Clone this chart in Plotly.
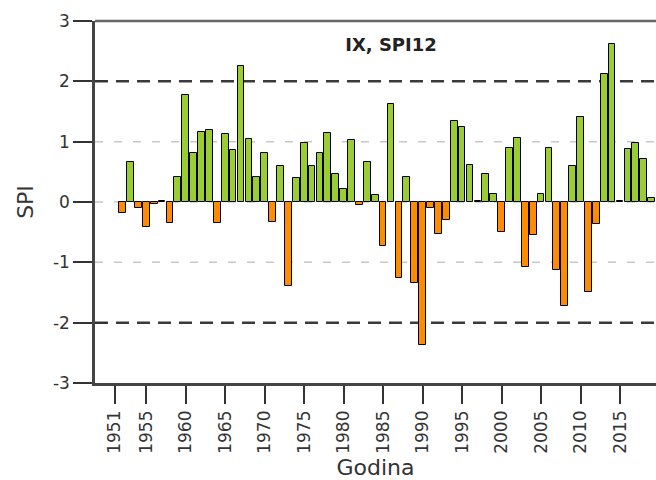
import plotly.graph_objects as go

# ---- data ----
years = list(range(1952, 2020))
spi12 = [
    -0.18, 0.66, -0.10, -0.41, -0.03, 0.01, -0.35, 0.42, 1.77,          # 1952-1960
    0.81, 1.16, 1.19, -0.35, 1.12, 0.86, 2.26, 1.05, 0.41, 0.81,        # 1961-1970
    -0.33, 0.60, -1.39, 0.40, 0.98, 0.60, 0.81, 1.14, 0.46, 0.22,       # 1971-1980
    1.02, -0.05, 0.66, 0.11, -0.73, 1.62, -1.26, 0.41, -1.35, -2.37,    # 1981-1990
    -0.10, -0.53, -0.30, 1.35, 1.24, 0.61, 0.02, 0.46, 0.14, -0.50,     # 1991-2000
    0.90, 1.06, -1.07, -0.54, 0.14, 0.89, -1.13, -1.72, 0.59, 1.41,     # 2001-2010
    -1.49, -0.37, 2.12, 2.62, 0.02, 0.88, 0.98, 0.72, 0.06,             # 2011-2019
]
x_tick_vals = [1951, 1955, 1960, 1965, 1970, 1975, 1980, 1985, 1990,
               1995, 2000, 2005, 2010, 2015, 2020]
x_tick_labels = [str(v) for v in x_tick_vals]
y_tick_vals = [-3, -2, -1, 0, 1, 2, 3]
y_tick_labels = ["-3", "-2", "-1", "0", "1", "2", "3"]
thresholds = [-2, 2]          # dark dashed reference lines
light_lines = [-1, 0, 1]      # light dashed grid lines
title_text = "IX, SPI12"
x_title = "Godina"
y_title = "SPI"

GREEN = "#9acd32"
ORANGE = "#ff8c00"
colors = [GREEN if v >= 0 else ORANGE for v in spi12]

FONT = "DejaVu Sans"
TXT = "#333333"

fig = go.Figure()
fig.add_trace(go.Bar(
    x=years, y=spi12, width=0.85,
    marker=dict(color=colors, line=dict(color="black", width=1)),
    showlegend=False,
))
# helper trace for the inner tick marks axis
fig.add_trace(go.Scatter(x=[], y=[], yaxis="y2", showlegend=False, hoverinfo="skip"))

shapes = []
for v in light_lines:
    shapes.append(dict(type="line", xref="paper", yref="y", x0=0, x1=1, y0=v, y1=v,
                       line=dict(color="#c8c8c8", width=1.5, dash="8px,11px"), layer="below"))
for t in thresholds:
    shapes.append(dict(type="line", xref="paper", yref="y", x0=0, x1=1, y0=t, y1=t,
                       line=dict(color="#3a3a3a", width=2.5, dash="13px,8px"), layer="below"))
shapes.append(dict(type="line", xref="paper", yref="paper", x0=0, x1=1, y0=1, y1=1,
                   line=dict(color="#666", width=2.5), layer="above"))

fig.update_layout(
    width=656, height=480,
    margin=dict(l=95, r=0, t=21, b=97),
    paper_bgcolor="white", plot_bgcolor="white",
    font=dict(family=FONT, color=TXT, size=17),
    title=dict(text="<b>" + title_text + "</b>", x=391 / 656, y=1 - 44.5 / 480,
               xref="container", yref="container", xanchor="center", yanchor="middle",
               font=dict(family=FONT, size=18, color="#222222")),
    xaxis=dict(
        range=[1948.51, 2019.56],
        tickmode="array", tickvals=x_tick_vals, ticktext=x_tick_labels,
        tickangle=-90, ticks="outside", ticklen=18, tickwidth=1.5, tickcolor="#333",
        showgrid=False, zeroline=False,
        showline=True, linecolor="#444", linewidth=2.5,
        title=dict(text=x_title, font=dict(size=22), standoff=8),
        tickfont=dict(size=17),
    ),
    yaxis=dict(
        range=[-3, 3],
        tickmode="array", tickvals=y_tick_vals, ticktext=y_tick_labels,
        ticks="outside", ticklen=19, tickwidth=1.5, tickcolor="#333",
        showgrid=False, zeroline=False,
        showline=True, linecolor="#444", linewidth=2.5,
        title=dict(text=y_title, font=dict(size=22), standoff=14),
        tickfont=dict(size=17),
    ),
    yaxis2=dict(
        range=[-3, 3], overlaying="y", anchor="x", side="left",
        tickmode="array", tickvals=[-3, -2, 2, 3],
        ticks="inside", ticklen=11, tickwidth=1.5, tickcolor="#333",
        showticklabels=False, showgrid=False, zeroline=False, showline=False,
    ),
    shapes=shapes,
    bargap=0,
)

fig.write_html("out.html")
